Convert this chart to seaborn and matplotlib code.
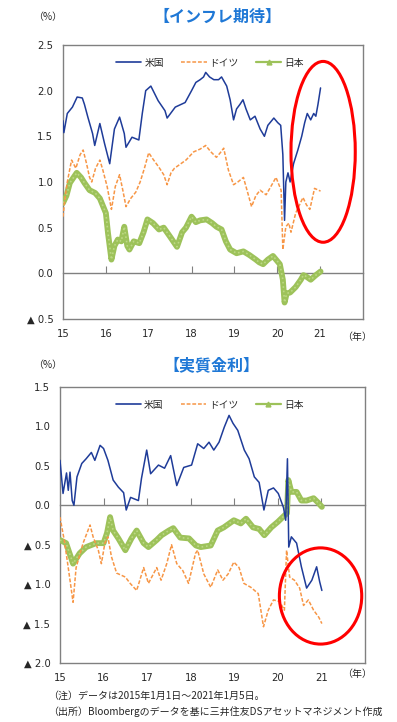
import matplotlib.pyplot as plt
import pandas as pd
import seaborn as sns
from matplotlib.lines import Line2D
from matplotlib.patches import Ellipse

# ---- data (decimal year, %) ----
us_inf_x = [2015.00, 2015.02, 2015.10, 2015.22, 2015.33, 2015.45, 2015.50, 2015.58, 2015.69, 2015.74,
            2015.86, 2015.97, 2016.09, 2016.20, 2016.32, 2016.43, 2016.47, 2016.61, 2016.77, 2016.85,
            2016.93, 2017.05, 2017.22, 2017.38, 2017.43, 2017.62, 2017.85, 2018.00, 2018.10, 2018.20,
            2018.28, 2018.33, 2018.42, 2018.52, 2018.63, 2018.70, 2018.82, 2018.90, 2018.98, 2019.05,
            2019.13, 2019.20, 2019.27, 2019.37, 2019.48, 2019.60, 2019.70, 2019.78, 2019.92, 2020.01,
            2020.08, 2020.13, 2020.17, 2020.20, 2020.25, 2020.30, 2020.38, 2020.48, 2020.57, 2020.64,
            2020.70, 2020.78, 2020.85, 2020.90, 2020.95, 2021.01]
us_inf = [1.67, 1.54, 1.75, 1.82, 1.93, 1.92, 1.85, 1.71, 1.53, 1.40,
          1.64, 1.42, 1.20, 1.58, 1.71, 1.53, 1.38, 1.49, 1.46, 1.75,
          2.00, 2.05, 1.89, 1.78, 1.70, 1.82, 1.87, 2.00, 2.09, 2.12,
          2.15, 2.20, 2.15, 2.12, 2.12, 2.15, 2.05, 1.90, 1.68, 1.80,
          1.85, 1.90, 1.80, 1.68, 1.72, 1.58, 1.50, 1.62, 1.70, 1.65,
          1.62, 1.30, 0.58, 1.00, 1.10, 1.00, 1.20, 1.35, 1.50, 1.65,
          1.75, 1.68, 1.75, 1.72, 1.85, 2.03]

de_inf_x = [2015.00, 2015.04, 2015.10, 2015.20, 2015.30, 2015.40, 2015.47, 2015.55, 2015.62, 2015.67,
            2015.76, 2015.86, 2015.93, 2016.03, 2016.13, 2016.22, 2016.32, 2016.40, 2016.47, 2016.58,
            2016.70, 2016.80, 2016.90, 2017.00, 2017.10, 2017.24, 2017.35, 2017.43, 2017.52, 2017.60,
            2017.75, 2017.87, 2018.05, 2018.20, 2018.33, 2018.45, 2018.58, 2018.67, 2018.75, 2018.86,
            2018.98, 2019.08, 2019.21, 2019.30, 2019.40, 2019.50, 2019.60, 2019.74, 2019.85, 2019.97,
            2020.09, 2020.13, 2020.20, 2020.27, 2020.32, 2020.43, 2020.52, 2020.60, 2020.68, 2020.76,
            2020.87, 2021.01]
de_inf = [0.62, 0.80, 1.00, 1.24, 1.15, 1.30, 1.35, 1.20, 1.05, 1.00,
          1.15, 1.24, 1.13, 0.95, 0.70, 0.95, 1.08, 0.90, 0.73, 0.82,
          0.89, 1.00, 1.15, 1.32, 1.25, 1.16, 1.08, 0.97, 1.10, 1.15,
          1.20, 1.24, 1.33, 1.36, 1.40, 1.33, 1.27, 1.32, 1.37, 1.13,
          0.97, 1.00, 1.05, 0.90, 0.73, 0.85, 0.91, 0.86, 0.95, 1.05,
          0.91, 0.26, 0.51, 0.55, 0.45, 0.66, 0.75, 0.83, 0.75, 0.70,
          0.93, 0.90]

jp_inf_x = [2015.00, 2015.08, 2015.16, 2015.32, 2015.42, 2015.50, 2015.62, 2015.75, 2015.86, 2016.00,
            2016.05, 2016.13, 2016.20, 2016.28, 2016.36, 2016.43, 2016.50, 2016.55, 2016.65, 2016.78,
            2016.88, 2016.97, 2017.10, 2017.24, 2017.35, 2017.50, 2017.66, 2017.78, 2017.87, 2018.00,
            2018.10, 2018.20, 2018.35, 2018.48, 2018.58, 2018.70, 2018.80, 2018.90, 2019.05, 2019.21,
            2019.35, 2019.50, 2019.58, 2019.67, 2019.78, 2019.90, 2020.06, 2020.13, 2020.17, 2020.22,
            2020.30, 2020.43, 2020.55, 2020.61, 2020.66, 2020.78, 2020.90, 2021.01]
jp_inf = [0.77, 0.85, 0.99, 1.10, 1.05, 0.99, 0.91, 0.88, 0.82, 0.66,
          0.44, 0.15, 0.30, 0.37, 0.35, 0.51, 0.30, 0.26, 0.35, 0.33,
          0.45, 0.59, 0.55, 0.48, 0.50, 0.40, 0.29, 0.45, 0.50, 0.62,
          0.56, 0.58, 0.59, 0.55, 0.51, 0.48, 0.35, 0.26, 0.22, 0.24,
          0.20, 0.15, 0.12, 0.10, 0.15, 0.19, 0.10, -0.07, -0.32, -0.22,
          -0.21, -0.15, -0.07, -0.02, -0.03, -0.07, -0.02, 0.02]

us_real_x = [2015.00, 2015.07, 2015.15, 2015.19, 2015.23, 2015.28, 2015.32, 2015.39, 2015.50, 2015.60,
             2015.72, 2015.80, 2015.92, 2016.00, 2016.10, 2016.22, 2016.34, 2016.46, 2016.52, 2016.62,
             2016.80, 2016.87, 2016.99, 2017.08, 2017.26, 2017.40, 2017.54, 2017.68, 2017.84, 2018.02,
             2018.16, 2018.30, 2018.42, 2018.53, 2018.65, 2018.77, 2018.88, 2018.97, 2019.08, 2019.23,
             2019.34, 2019.46, 2019.57, 2019.68, 2019.78, 2019.90, 2020.01, 2020.13, 2020.18, 2020.22,
             2020.25, 2020.31, 2020.43, 2020.54, 2020.66, 2020.78, 2020.89, 2020.96, 2021.01]
us_real = [0.57, 0.15, 0.41, 0.19, 0.42, 0.06, 0.00, 0.36, 0.53, 0.59,
           0.67, 0.57, 0.76, 0.72, 0.57, 0.32, 0.23, 0.16, -0.06, 0.10,
           0.06, 0.34, 0.70, 0.40, 0.51, 0.47, 0.63, 0.25, 0.48, 0.51,
           0.78, 0.72, 0.80, 0.70, 0.80, 0.99, 1.14, 1.04, 0.95, 0.70,
           0.59, 0.36, 0.29, -0.06, 0.19, 0.22, 0.15, -0.03, -0.19, 0.59,
           -0.53, -0.40, -0.48, -0.78, -1.05, -0.95, -0.78, -0.97, -1.08]

de_real_x = [2015.00, 2015.11, 2015.24, 2015.30, 2015.37, 2015.53, 2015.69, 2015.76, 2015.88, 2015.95,
             2016.03, 2016.10, 2016.18, 2016.30, 2016.50, 2016.61, 2016.76, 2016.92, 2017.03, 2017.22,
             2017.32, 2017.45, 2017.56, 2017.68, 2017.82, 2017.95, 2018.11, 2018.16, 2018.30, 2018.46,
             2018.62, 2018.74, 2018.86, 2018.99, 2019.11, 2019.22, 2019.38, 2019.55, 2019.67, 2019.78,
             2019.90, 2020.04, 2020.15, 2020.20, 2020.27, 2020.38, 2020.50, 2020.59, 2020.70, 2020.82,
             2020.94, 2021.01]
de_real = [-0.15, -0.48, -0.99, -1.23, -0.79, -0.48, -0.25, -0.40, -0.57, -0.74,
           -0.48, -0.40, -0.65, -0.86, -0.91, -0.99, -1.08, -0.79, -0.99, -0.79,
           -0.95, -0.74, -0.50, -0.74, -0.83, -0.99, -0.61, -0.57, -0.87, -1.04,
           -0.82, -0.95, -0.87, -0.72, -0.79, -0.99, -1.04, -1.12, -1.54, -1.33,
           -1.20, -1.22, -1.33, -0.57, -0.91, -0.95, -1.05, -1.27, -1.20, -1.33,
           -1.42, -1.50]

jp_real_x = [2015.00, 2015.14, 2015.30, 2015.45, 2015.60, 2015.83, 2016.00, 2016.08, 2016.15, 2016.22,
             2016.34, 2016.50, 2016.64, 2016.76, 2016.92, 2017.03, 2017.22, 2017.33, 2017.50, 2017.60,
             2017.76, 2017.96, 2018.12, 2018.23, 2018.46, 2018.62, 2018.76, 2018.99, 2019.15, 2019.27,
             2019.43, 2019.57, 2019.69, 2019.85, 2020.00, 2020.15, 2020.21, 2020.24, 2020.31, 2020.43,
             2020.54, 2020.66, 2020.82, 2020.93, 2021.01]
jp_real = [-0.44, -0.48, -0.74, -0.61, -0.53, -0.48, -0.48, -0.35, -0.15, -0.32,
           -0.42, -0.57, -0.42, -0.32, -0.48, -0.53, -0.44, -0.38, -0.32, -0.29,
           -0.41, -0.42, -0.51, -0.53, -0.51, -0.32, -0.28, -0.19, -0.23, -0.17,
           -0.28, -0.30, -0.38, -0.28, -0.21, -0.13, -0.10, 0.32, 0.17, 0.17,
           0.06, 0.06, 0.09, 0.03, -0.02]

countries = ['米国', 'ドイツ', '日本']
years = [2015, 2016, 2017, 2018, 2019, 2020, 2021]
year_labels = ['15', '16', '17', '18', '19', '20', '21']
inf_ticks = [2.5, 2.0, 1.5, 1.0, 0.5, 0.0, -0.5]
inf_labels = ['2.5', '2.0', '1.5', '1.0', '0.5', '0.0', '▲ 0.5']
real_ticks = [1.5, 1.0, 0.5, 0.0, -0.5, -1.0, -1.5, -2.0]
real_labels = ['1.5', '1.0', '0.5', '0.0', '▲ 0.5', '▲ 1.0', '▲ 1.5', '▲ 2.0']

US_C, DE_C, JP_C = '#1F3C99', '#F79646', '#9DC25A'
GRID = '#808080'

sns.set_style('white')
plt.rcParams['font.family'] = ['DejaVu Sans', 'Noto Sans CJK JP']
JP = ['Noto Sans CJK JP', 'DejaVu Sans']


def panel(ax, series, ylim, ticks, labels, ellipse):
    (ux, uy), (dx, dy), (jx, jy) = series
    sns.lineplot(x=jx, y=jy, ax=ax, color=JP_C, linewidth=4.2, zorder=3)
    sns.lineplot(x=jx, y=jy, ax=ax, color='#BCD885', linewidth=1.2, linestyle=':', zorder=3)
    sns.lineplot(x=dx, y=dy, ax=ax, color=DE_C, linewidth=1.1, linestyle=(0, (2.5, 1.2)), zorder=4)
    sns.lineplot(x=ux, y=uy, ax=ax, color=US_C, linewidth=1.1, zorder=5)
    ax.set_xlim(2015, 2022)
    ax.set_ylim(*ylim)
    ax.set_xticks(years)
    ax.set_xticklabels(year_labels)
    ax.set_yticks(ticks)
    ax.set_yticklabels(labels)
    ax.set_xlabel('')
    ax.set_ylabel('')
    ax.tick_params(axis='x', length=0, pad=7, labelsize=7.2)
    ax.tick_params(axis='y', direction='in', length=3, color=GRID, pad=7, labelsize=7.2)
    for s in ax.spines.values():
        s.set_color(GRID)
        s.set_linewidth(1)
    # zero line with year ticks
    zero = ax.secondary_xaxis((0 - ylim[0]) / (ylim[1] - ylim[0]))
    zero.set_alignment('bottom')
    zero.set_xticks(years[1:])
    zero.set_xticklabels([''] * (len(years) - 1))
    zero.tick_params(direction='in', length=5, color=GRID, labelbottom=False, labeltop=False)
    zero.spines['bottom'].set_color(GRID)
    zero.spines['bottom'].set_linewidth(1)
    cx, cy, w, h = ellipse
    ax.add_patch(Ellipse((cx, cy), w, h, fill=False, edgecolor='#FF0000', linewidth=2.2, zorder=6))
    handles = [Line2D([], [], color=US_C, lw=1.2),
               Line2D([], [], color=DE_C, lw=1.1, ls=(0, (2.5, 1.2))),
               Line2D([], [], color=JP_C, lw=1.6, marker='^', markersize=3.5)]
    ax.legend(handles, countries, loc='upper center', bbox_to_anchor=(0.49, 0.985), ncol=3,
              frameon=False, handlelength=2.6, handletextpad=0.3, columnspacing=1.8,
              prop={'family': JP, 'size': 7})


fig = plt.figure(figsize=(3.97, 7.22), dpi=100)
ax1 = fig.add_axes([0.1587, 0.5582, 0.7556, 0.3795])
panel(ax1, [(us_inf_x, us_inf), (de_inf_x, de_inf), (jp_inf_x, jp_inf)],
      (-0.5, 2.5), inf_ticks, inf_labels, (2021.07, 1.33, 1.5, 1.98))
ax2 = fig.add_axes([0.1511, 0.0817, 0.7683, 0.3823])
panel(ax2, [(us_real_x, us_real), (de_real_x, de_real), (jp_real_x, jp_real)],
      (-2.0, 1.5), real_ticks, real_labels, (2020.98, -1.15, 1.89, 1.22))

title_c = '#1F78D6'
fig.text(0.547, 0.976, '【インフレ期待】', ha='center', va='center', fontsize=11.5,
         fontweight='bold', color=title_c, family=JP)
fig.text(0.533, 0.4945, '【実質金利】', ha='center', va='center', fontsize=11.5,
         fontweight='bold', color=title_c, family=JP)
for y in (0.976, 0.4945):
    fig.text(0.12, y, '（%）', ha='center', va='center', fontsize=7.2, family=JP)
for y in (0.533, 0.0665):
    fig.text(0.899, y, '（年）', ha='center', va='center', fontsize=7.2, family=JP)
fig.text(0.122, 0.036, '（注）データは2015年1月1日～2021年1月5日。', ha='left', va='center',
         fontsize=7.2, family=JP)
fig.text(0.122, 0.0145, '（出所）Bloombergのデータを基に三井住友DSアセットマネジメント作成', ha='left',
         va='center', fontsize=7.2, family=JP)

fig.savefig('out.png', dpi=100)
